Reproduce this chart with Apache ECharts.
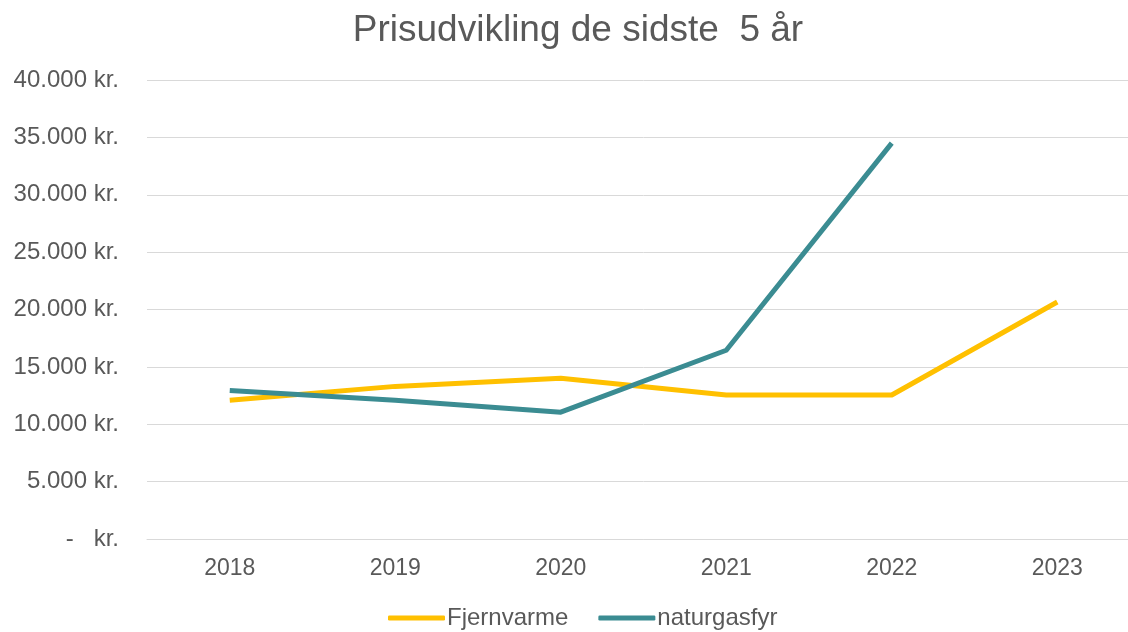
<!DOCTYPE html>
<html>
<head>
<meta charset="utf-8">
<script src="https://cdn.jsdelivr.net/npm/echarts@6/dist/echarts.min.js"></script>
<style>
  html, body { margin: 0; padding: 0; background: #fff; overflow: hidden; }
  #chart { width: 1156px; height: 632px; }
</style>
</head>
<body>
<div id="chart"></div>
<script>
// data
var years = ['2018', '2019', '2020', '2021', '2022', '2023'];
var fjernvarme = [12100, 13300, 14000, 12550, 12550, 20650];
var naturgasfyr = [12950, 12100, 11050, 16450, 34500, null];

function fmtKr(v) {
  if (v === 0) return '-   kr.';
  return String(v).replace(/\B(?=(\d{3})+(?!\d))/g, '.') + ' kr.';
}

var myChart = echarts.init(document.getElementById('chart'));
var textColor = '#595959';
var option = {
  animation: false,
  textStyle: { fontFamily: 'Arial, "Liberation Sans", sans-serif' },
  title: {
    left: 'center',
    top: 7,
    text: 'Prisudvikling de sidste  5 år',
    textStyle: { color: textColor, fontSize: 37, fontWeight: 'normal' }
  },
  legend: {
    top: 601,
    left: 383,
    itemWidth: 57,
    itemHeight: 5,
    itemGap: 30,
    icon: 'roundRect',
    textStyle: { color: textColor, fontSize: 24, padding: [0, 0, 0, -3] },
    data: ['Fjernvarme', 'naturgasfyr']
  },
  grid: { left: 147, right: 16, top: 80, bottom: 93 },
  xAxis: {
    type: 'category',
    data: years,
    boundaryGap: true,
    axisLine: { lineStyle: { color: '#d9d9d9', width: 1 } },
    axisTick: { show: false },
    axisLabel: { color: textColor, fontSize: 23, margin: 18 }
  },
  yAxis: {
    type: 'value',
    min: 0,
    max: 40000,
    interval: 5000,
    axisLine: { show: false },
    axisTick: { show: false },
    splitLine: { lineStyle: { color: '#d9d9d9', width: 1 } },
    axisLabel: { color: textColor, fontSize: 24, margin: 28, formatter: fmtKr }
  },
  series: [
    {
      name: 'Fjernvarme',
      type: 'line',
      data: fjernvarme,
      symbol: 'none',
      lineStyle: { color: '#FFC000', width: 5, join: 'round' },
      itemStyle: { color: '#FFC000' }
    },
    {
      name: 'naturgasfyr',
      type: 'line',
      data: naturgasfyr,
      symbol: 'none',
      lineStyle: { color: '#3B8C92', width: 5, join: 'round' },
      itemStyle: { color: '#3B8C92' }
    }
  ]
};
myChart.setOption(option);
</script>
</body>
</html>
